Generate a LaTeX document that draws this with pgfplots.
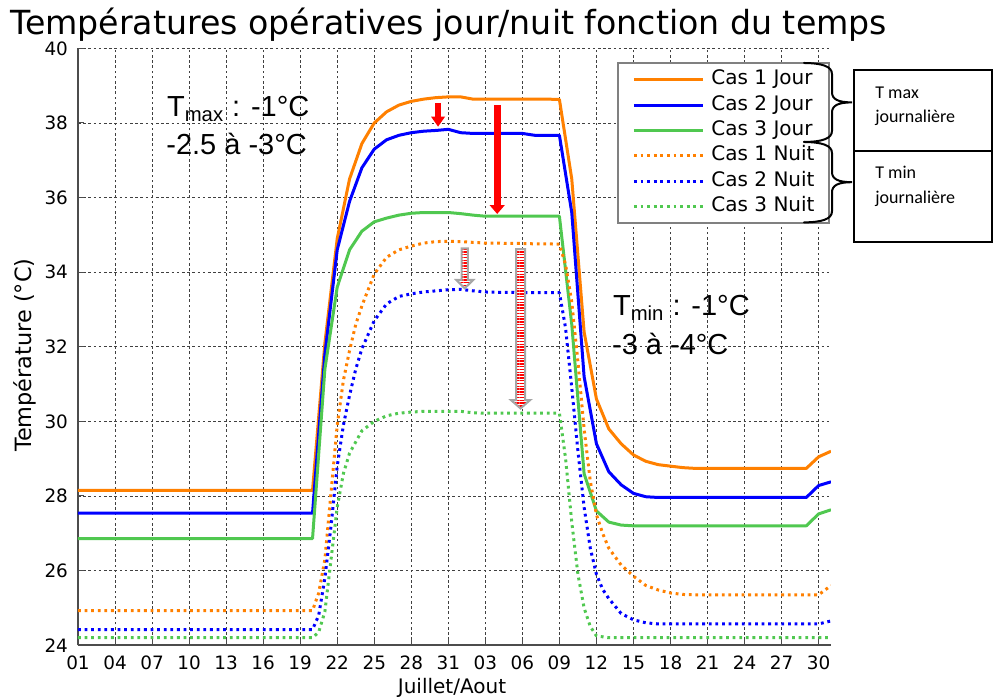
\documentclass[border=0pt]{standalone}
\usepackage{fontspec}
\setmainfont{DejaVu Sans}
\newfontfamily\lib{Liberation Sans}
\newfontfamily\carl{Carlito}
\usepackage{pgfplots}
\pgfplotsset{compat=1.18}
\usetikzlibrary{arrows.meta,patterns.meta}
\definecolor{cor}{RGB}{255,128,0}
\definecolor{cbl}{RGB}{0,0,255}
\definecolor{cgr}{RGB}{80,200,80}
\begin{document}
\begin{tikzpicture}
\path[use as bounding box] (-39pt,-27.4pt) rectangle (457.5pt,322.6pt);
\begin{axis}[
  at={(0pt,0pt)}, anchor=south west,
  scale only axis, width=376.5pt, height=298.4pt,
  xmin=0, xmax=61, ymin=24, ymax=40,
  xtick={0,3,...,60},
  xticklabels={01,04,07,10,13,16,19,22,25,28,31,03,06,09,12,15,18,21,24,27,30},
  ytick={24,26,...,40},
  /pgf/number format/assume math mode=true,
  tick label style={font=\fontsize{9.2}{10}\selectfont},
  xticklabel style={yshift=-2pt},
  yticklabel style={xshift=-1.5pt},
  grid=major,
  major grid style={black!75, line width=0.4pt, dash pattern=on 1.3pt off 1.3pt},
  axis x line*=bottom, axis y line*=left,
  axis line style={-, black!70, line width=0.8pt},
  tick style={black!70, line width=0.5pt},
  tick align=inside, major tick length=3pt,
  xlabel={Juillet/Aout},
  xlabel style={font=\fontsize{10}{11}\selectfont, at={(axis description cs:0.4967,-0.0717)}, anchor=center},
  ylabel={Température (°C)},
  ylabel style={font=\fontsize{11.2}{12}\selectfont, at={(axis description cs:-0.0704,0.486)}, anchor=center},
  legend style={at={(axis description cs:0.7162,0.9767)}, anchor=north west,
    draw=black!50, line width=0.75pt, fill=white,
    inner xsep=7.2pt, inner ysep=3.4pt, row sep=2.65pt,
    font=\fontsize{10}{12}\selectfont,
    nodes={inner sep=0pt, text height=7.5pt, text depth=2.5pt},
    /tikz/every odd column/.append style={column sep=3.5pt}},
  legend cell align=left,
  legend image code/.code={\draw[#1] (0pt,0pt) -- (34.5pt,0pt);},
  every axis plot/.append style={no markers, line width=1.5pt, line join=round},
]
\addplot[cor] coordinates {(0,28.15)(19,28.15)(20,32.1)(21,34.9)(22,36.5)(23,37.45)(24,38.0)(25,38.3)(26,38.48)(27,38.58)(28,38.64)(29,38.68)(30,38.7)(31,38.7)(32,38.64)(33,38.64)(34,38.64)(35,38.64)(36,38.64)(37,38.64)(38,38.64)(39,38.63)(40,36.5)(41,32.4)(42,30.6)(43,29.8)(44,29.4)(45,29.1)(46,28.93)(47,28.84)(48,28.8)(49,28.76)(50,28.74)(51,28.74)(52,28.74)(53,28.74)(54,28.74)(55,28.74)(56,28.74)(57,28.74)(58,28.74)(59,28.74)(60,29.05)(61,29.2)};
\addlegendentry{Cas 1 Jour}
\addplot[cbl] coordinates {(0,27.54)(19,27.54)(20,31.8)(21,34.6)(22,35.9)(23,36.8)(24,37.3)(25,37.55)(26,37.67)(27,37.74)(28,37.78)(29,37.8)(30,37.83)(31,37.74)(32,37.72)(33,37.72)(34,37.72)(35,37.72)(36,37.72)(37,37.67)(38,37.67)(39,37.67)(40,35.6)(41,31.2)(42,29.4)(43,28.65)(44,28.3)(45,28.07)(46,27.98)(47,27.96)(48,27.96)(49,27.96)(50,27.96)(51,27.96)(52,27.96)(53,27.96)(54,27.96)(55,27.96)(56,27.96)(57,27.96)(58,27.96)(59,27.96)(60,28.28)(61,28.38)};
\addlegendentry{Cas 2 Jour}
\addplot[cgr] coordinates {(0,26.86)(19,26.86)(20,31.4)(21,33.6)(22,34.6)(23,35.1)(24,35.35)(25,35.45)(26,35.53)(27,35.58)(28,35.6)(29,35.6)(30,35.6)(31,35.57)(32,35.53)(33,35.5)(34,35.5)(35,35.5)(36,35.5)(37,35.5)(38,35.5)(39,35.5)(40,32.6)(41,28.6)(42,27.6)(43,27.3)(44,27.22)(45,27.2)(46,27.2)(47,27.2)(48,27.2)(49,27.2)(50,27.2)(51,27.2)(52,27.2)(53,27.2)(54,27.2)(55,27.2)(56,27.2)(57,27.2)(58,27.2)(59,27.2)(60,27.52)(61,27.63)};
\addlegendentry{Cas 3 Jour}
\addplot[cor, dash pattern=on 1.4pt off 1.9pt] coordinates {(0,24.93)(19,24.93)(19.5,25.4)(20,26.3)(20.5,28.1)(21,29.9)(21.5,31.1)(22,31.9)(22.5,32.6)(23,33.1)(24,33.95)(25,34.4)(26,34.6)(27,34.7)(28,34.78)(29,34.82)(30,34.83)(31,34.82)(32,34.8)(33,34.78)(34,34.78)(35,34.77)(36,34.77)(37,34.76)(38,34.76)(39,34.75)(39.5,34.2)(40,33.2)(40.5,31.6)(41,29.8)(41.5,28.4)(42,27.5)(42.5,27.0)(43,26.6)(44,26.15)(45,25.85)(46,25.6)(47,25.48)(48,25.4)(49,25.36)(50,25.35)(51,25.35)(52,25.35)(53,25.35)(54,25.35)(55,25.35)(56,25.35)(57,25.35)(58,25.35)(59,25.35)(60,25.35)(61,25.6)};
\addlegendentry{Cas 1 Nuit}
\addplot[cbl, dash pattern=on 1.4pt off 1.9pt] coordinates {(0,24.42)(19,24.42)(19.5,24.8)(20,25.8)(20.5,27.2)(21,28.8)(21.5,29.9)(22,30.7)(22.5,31.4)(23,31.95)(24,32.7)(25,33.15)(26,33.35)(27,33.42)(28,33.47)(29,33.5)(30,33.53)(31,33.54)(32,33.5)(33,33.47)(34,33.46)(35,33.46)(36,33.45)(37,33.45)(38,33.45)(39,33.45)(39.5,32.5)(40,30.9)(40.5,29.2)(41,27.7)(41.5,26.6)(42,25.9)(42.5,25.5)(43,25.25)(44,24.85)(45,24.68)(46,24.6)(47,24.57)(48,24.57)(49,24.57)(50,24.57)(51,24.57)(52,24.57)(53,24.57)(54,24.57)(55,24.57)(56,24.57)(57,24.57)(58,24.57)(59,24.57)(60,24.57)(61,24.65)};
\addlegendentry{Cas 2 Nuit}
\addplot[cgr, dash pattern=on 1.4pt off 1.9pt] coordinates {(0,24.2)(19,24.2)(19.5,24.35)(20,24.9)(20.5,26.3)(21,27.7)(21.5,28.6)(22,29.15)(23,29.75)(24,30.0)(25,30.15)(26,30.22)(27,30.25)(28,30.27)(29,30.27)(30,30.27)(31,30.27)(32,30.23)(33,30.22)(34,30.22)(35,30.22)(36,30.22)(37,30.22)(38,30.22)(39,30.22)(39.5,29.0)(40,27.3)(40.5,25.9)(41,25.0)(41.5,24.5)(42,24.25)(43,24.2)(44,24.2)(50,24.2)(55,24.2)(61,24.2)};
\addlegendentry{Cas 3 Nuit}
\coordinate (r1a) at (axis cs:29.17,38.54);
\coordinate (r1b) at (axis cs:29.17,37.9);
\coordinate (r2a) at (axis cs:33.96,38.48);
\coordinate (r2b) at (axis cs:33.96,35.56);
\coordinate (s1) at (axis cs:31.33,34.64);
\coordinate (s2) at (axis cs:35.85,34.62);
\end{axis}
% arrows
\draw[red, line width=2.85pt, -{Triangle[width=6.6pt,length=5pt]}] (r1a) -- (r1b);
\draw[red, line width=3.5pt, -{Triangle[width=7.4pt,length=4.5pt]}] (r2a) -- (r2b);
\begin{scope}[shift={(s1)}]
\path[preaction={fill=white}, pattern={Lines[angle=0,distance=1.4pt,line width=0.7pt]}, pattern color=red, draw=black!35, line width=1pt]
 (-1.6pt,0pt) -- (1.6pt,0pt) -- (1.6pt,-15.8pt) -- (4.25pt,-15.8pt) -- (0pt,-20pt) -- (-4.25pt,-15.8pt) -- (-1.6pt,-15.8pt) -- cycle;
\end{scope}
\begin{scope}[shift={(s2)}]
\path[preaction={fill=white}, pattern={Lines[angle=0,distance=1.4pt,line width=0.7pt]}, pattern color=red, draw=black!35, line width=1pt]
 (-2.25pt,0pt) -- (2.25pt,0pt) -- (2.25pt,-75.5pt) -- (4.8pt,-75.5pt) -- (0pt,-79.7pt) -- (-4.8pt,-75.5pt) -- (-2.25pt,-75.5pt) -- cycle;
\end{scope}
% title
\node[anchor=base west, inner sep=0pt, font=\fontsize{16.6}{19}\selectfont] at (-34pt,305.1pt) {Températures opératives jour/nuit fonction du temps};
% annotations
\node[anchor=base west, inner sep=0pt, font=\lib\fontsize{14.5}{17}\selectfont] at (44.35pt,264.25pt) {T\textsubscript{max} : -1°C};
\node[anchor=base west, inner sep=0pt, font=\lib\fontsize{14.5}{17}\selectfont] at (44pt,245.1pt) {-2.5 à -3°C};
\node[anchor=base west, inner sep=0pt, font=\lib\fontsize{14.5}{17}\selectfont] at (267.35pt,164.6pt) {T\textsubscript{min} : -1°C};
\node[anchor=base west, inner sep=0pt, font=\lib\fontsize{14.5}{17}\selectfont] at (266.85pt,145.1pt) {-3 à -4°C};
% braces
\draw[line width=1pt, line cap=round] (363pt,291.1pt) .. controls (372pt,291pt) and (377pt,289.5pt) .. (377pt,285.5pt) -- (377pt,276.5pt) .. controls (377pt,273pt) and (380pt,271.4pt) .. (387pt,271.4pt) .. controls (380pt,271.4pt) and (377pt,269.8pt) .. (377pt,266.3pt) -- (377pt,257.2pt) .. controls (377pt,253.2pt) and (372pt,251.7pt) .. (363pt,251.6pt);
\draw[line width=1pt, line cap=round] (363pt,251.6pt) .. controls (372pt,251.5pt) and (377pt,250pt) .. (377pt,246pt) -- (377pt,236.6pt) .. controls (377pt,233.1pt) and (380pt,231.5pt) .. (387pt,231.5pt) .. controls (380pt,231.5pt) and (377pt,229.9pt) .. (377pt,226.4pt) -- (377pt,217pt) .. controls (377pt,213pt) and (372pt,211.5pt) .. (363pt,211.4pt);
% boxes
\draw[line width=1pt] (387.75pt,287.6pt) rectangle (456.75pt,201.75pt);
\draw[line width=1pt] (387.75pt,247.1pt) -- (456.75pt,247.1pt);
\node[anchor=base west, inner sep=0pt, font=\carl\fontsize{9}{11}\selectfont] at (398.5pt,273.45pt) {T max};
\node[anchor=base west, inner sep=0pt, font=\carl\fontsize{9}{11}\selectfont] at (398.5pt,261.25pt) {journalière};
\node[anchor=base west, inner sep=0pt, font=\carl\fontsize{9}{11}\selectfont] at (398.5pt,233.1pt) {T min};
\node[anchor=base west, inner sep=0pt, font=\carl\fontsize{9}{11}\selectfont] at (398.5pt,220.95pt) {journalière};
\end{tikzpicture}
\end{document}
